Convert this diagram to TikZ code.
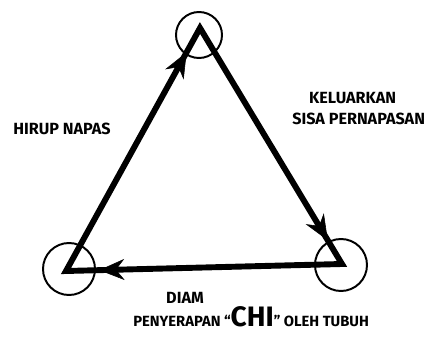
\documentclass[tikz,border=0pt]{standalone}
\usepackage{fontspec}
\setmainfont{Fira Sans}
\usepackage{tikz}
\usetikzlibrary{arrows.meta,decorations.markings}

\begin{document}
\begin{tikzpicture}[
  x=0.025cm, y=-0.025cm,
  font=\small,
  ring/.style={draw,circle,line width=1.4pt,inner sep=0pt,minimum size=#1*0.025cm},
  edge/.style={line width=4.2pt,line join=miter},
  lbl/.style={align=center,inner sep=0pt,font=\fontsize{11.5}{15}\selectfont\bfseries},
  flow/.style={decorate,decoration={markings,
    mark=at position #1 with {\arrow{Stealth[length=18pt,width=15pt,inset=6pt]}}}}]
\useasboundingbox (0,0) rectangle (440,346);
\coordinate (apex) at (200,28);
\coordinate (lft) at (66,271);
\coordinate (rgt) at (342,264);
\node[ring=46] (capex) at (199,35) {};
\node[ring=52] (clft) at (69,269) {};
\node[ring=52] (crgt) at (341,265) {};
\draw[edge] (lft) -- (apex) -- (rgt) -- cycle;
\path[flow=0.90] (lft) -- (apex);
\path[flow=0.90] (apex) -- (rgt);
\path[flow=0.88] (rgt) -- (lft);
\node[lbl] (inhale) at (62,129) {HIRUP NAPAS};
\node[lbl,align=left,anchor=north west] (exhale) at (292,92)
  {\hspace*{12pt}KELUARKAN\\SISA PERNAPASAN};
\node[lbl] (still) at (185,298) {DIAM};
\node[lbl,anchor=base west,font=\fontsize{10.5}{12}\selectfont\bfseries] (absorb) at (133,327)
  {PENYERAPAN ``{\fontsize{20}{20}\selectfont CHI}'' OLEH TUBUH};
\end{tikzpicture}
\end{document}
